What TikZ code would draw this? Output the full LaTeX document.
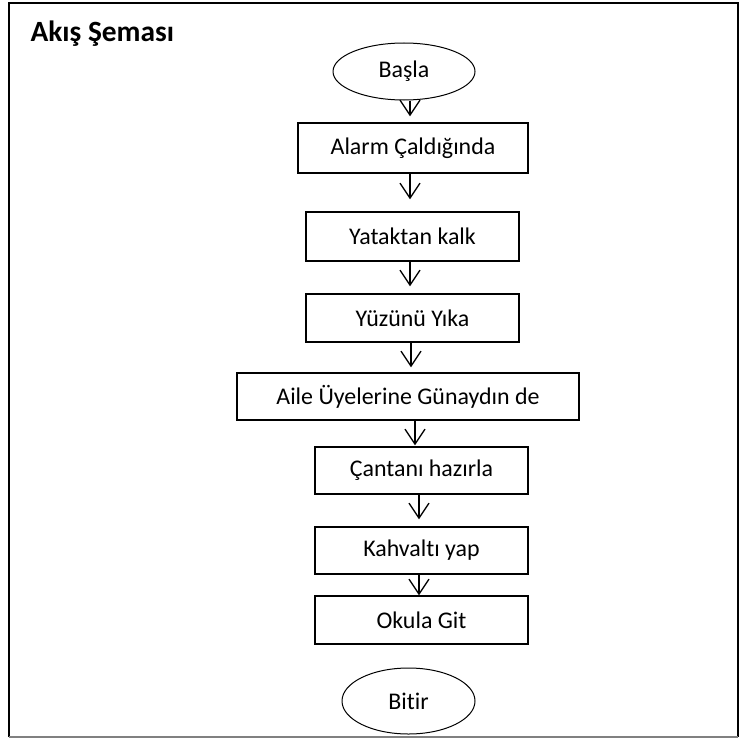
\documentclass[tikz,border=0pt]{standalone}
\usepackage{fontspec}
\setmainfont{Carlito}[Ligatures=NoCommon]
\usetikzlibrary{arrows.meta,shapes.geometric}

\begin{document}
\begin{tikzpicture}[x=1bp,y=-1bp,
  stepbox/.style={draw,line width=1.4bp,inner sep=0pt,font=\fontsize{24}{29}\selectfont},
  endcap/.style={draw,ellipse,line width=1bp,inner sep=0pt,font=\fontsize{24}{29}\selectfont},
  flow/.style={line width=1.3bp,-{Straight Barb[length=15bp,width=20bp,line width=1.3bp]}}]
\useasboundingbox (0,0) rectangle (744,738);
%% Frame
\draw[line width=2bp] (9,737) -- (9,3) -- (738,3) -- (738,737);
\draw[gray,line width=2bp] (9,737) -- (738,737);
\node[font=\fontsize{29.5}{34}\selectfont\bfseries,anchor=base west] (title) at (27,42) {Akış Şeması};
%% Terminals
\node[endcap,minimum width=142bp,minimum height=57bp] (basla) at (404,71.5) {Başla};
\node[endcap,minimum width=133bp,minimum height=66bp] (bitir) at (408.5,701) {Bitir};
%% Steps
\node[stepbox,minimum width=230bp,minimum height=50bp] (alarm) at (413,148) {Alarm Çaldığında};
\node[stepbox,minimum width=213bp,minimum height=49bp] (yatak) at (412.5,236.5) {Yataktan kalk};
\node[stepbox,minimum width=213bp,minimum height=48bp] (yuz) at (412.5,318) {Yüzünü Yıka};
\node[stepbox,minimum width=342bp,minimum height=47bp] (aile) at (408,396.5) {Aile Üyelerine Günaydın de};
\node[stepbox,minimum width=213bp,minimum height=47bp] (canta) at (421.5,470.5) {Çantanı hazırla};
\node[stepbox,minimum width=213bp,minimum height=47bp] (kahvalti) at (421.5,550.5) {Kahvaltı yap};
\node[stepbox,minimum width=213bp,minimum height=48bp] (okul) at (421.5,620) {Okula Git};
%% Arrows
\foreach \a/\b/\x/\gap in {basla/alarm/410/6, alarm/yatak/410/12, yatak/yuz/410/7,
                          yuz/aile/411/5, aile/canta/415/1, canta/kahvalti/419/7,
                          kahvalti/okul/419/0} {
  \draw[flow,shorten >=\gap bp] (\a.south -| \x,0) -- (\b.north -| \x,0);
}
\end{tikzpicture}
\end{document}
